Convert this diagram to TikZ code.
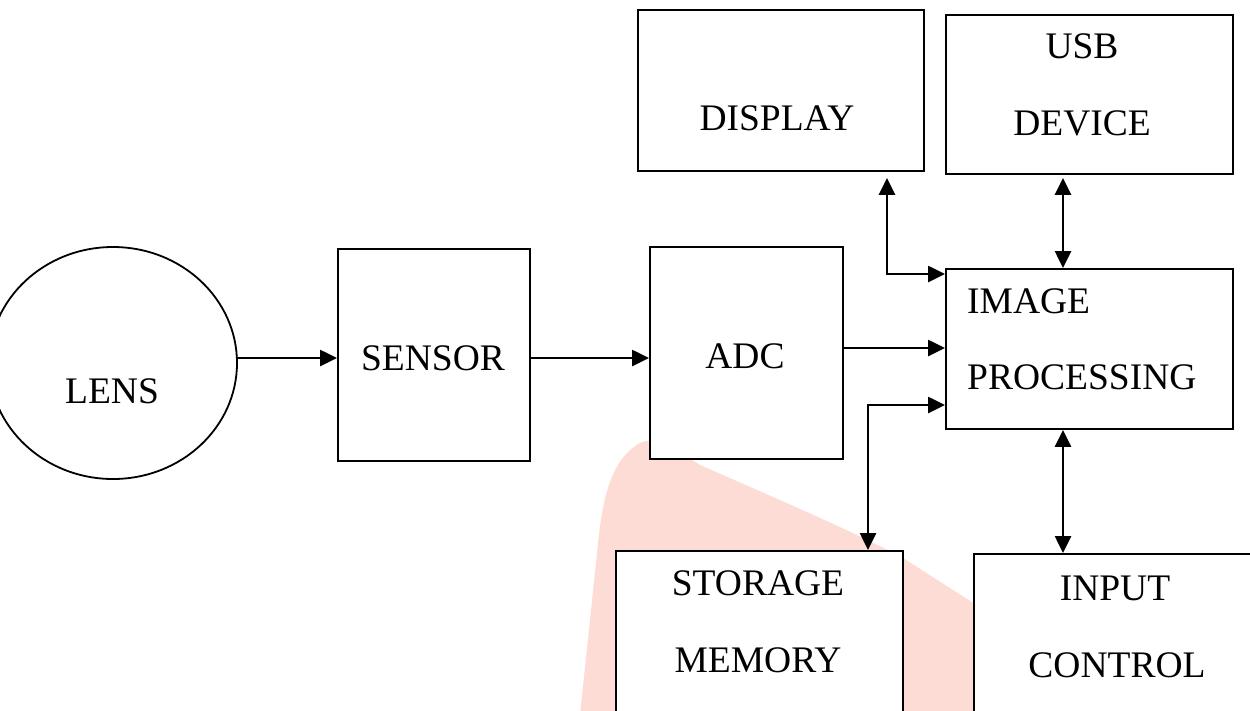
\documentclass[tikz,border=0pt]{standalone}
\usepackage{fontspec}
\setmainfont{Liberation Serif}
\usetikzlibrary{shapes.geometric,arrows.meta}
\definecolor{wm}{RGB}{254,220,214}
\begin{document}
\begin{tikzpicture}[x=1pt,y=-1pt,
  box/.style={draw, line width=1.9pt, fill=white, rectangle, anchor=north west, inner sep=0pt},
  lbl/.style={font=\fontsize{37.5}{44}\selectfont, inner sep=0pt, anchor=base},
  arr/.style={line width=2.6pt, -{Triangle[length=17pt,width=16pt]}},
  darr/.style={line width=2.6pt, {Triangle[length=17pt,width=16pt]}-{Triangle[length=17pt,width=16pt]}}]
\useasboundingbox (0,0) rectangle (1250,710);
\clip (0,0) rectangle (1250,710);
% watermark
\fill[wm] (580,715) -- (597,553) .. controls (602,500) and (610,460) .. (640,443)
  .. controls (655,436) and (670,445) .. (700,465)
  .. controls (780,500) and (850,530) .. (903,558) -- (1000,620) -- (1000,715) -- cycle;
% nodes
\node[draw, line width=1.8pt, fill=white, ellipse, minimum width=248pt, minimum height=232pt, inner sep=0pt] (lens) at (113,363) {};
\node[box, minimum width=192pt, minimum height=212pt] (sensor) at (337,248) {};
\node[box, minimum width=193pt, minimum height=212pt] (adc) at (649,246) {};
\node[box, minimum width=286pt, minimum height=161pt] (display) at (637,9) {};
\node[box, minimum width=287pt, minimum height=159pt] (usb) at (945,14) {};
\node[box, minimum width=287pt, minimum height=160pt] (ip) at (945,268) {};
\node[box, minimum width=287pt, minimum height=170pt] (storage) at (615,550) {};
\node[box, minimum width=290pt, minimum height=170pt] (input) at (973,553) {};
% labels
\node[lbl] (lensT) at (112,403) {LENS};
\node[lbl] (sensorT) at (433,370) {SENSOR};
\node[lbl] (adcT) at (745,368) {ADC};
\node[lbl] (displayT) at (777,130) {DISPLAY};
\node[lbl] (usbT) at (1082,58) {USB};
\node[lbl] (deviceT) at (1082,135) {DEVICE};
\node[lbl, anchor=base west] (imageT) at (967,313) {IMAGE};
\node[lbl, anchor=base west] (procT) at (967,389) {PROCESSING};
\node[lbl] (storageT) at (758,595) {STORAGE};
\node[lbl] (memoryT) at (758,672) {MEMORY};
\node[lbl] (inputT) at (1115,600) {INPUT};
\node[lbl] (controlT) at (1117,677) {CONTROL};
% helper coordinates
\coordinate (h358) at (0,358);
\coordinate (h348) at (0,348);
\coordinate (h274) at (0,274);
\coordinate (h405) at (0,405);
\coordinate (vx) at (1063,0);
\coordinate (dx) at (887,0);
\coordinate (sx) at (868,0);
% connectors
\draw[arr] (lens.east |- h358) -- (sensor.west |- h358);
\draw[arr] (sensor.east |- h358) -- (adc.west |- h358);
\draw[arr] (adc.east |- h348) -- (ip.west |- h348);
\draw[darr, shorten <=6pt] (display.south -| dx) |- (ip.west |- h274);
\draw[darr, shorten <=3pt] (usb.south -| vx) -- (ip.north -| vx);
\draw[darr] (ip.south -| vx) -- (input.north -| vx);
\draw[darr] (ip.west |- h405) -| (storage.north -| sx);
\end{tikzpicture}
\end{document}
